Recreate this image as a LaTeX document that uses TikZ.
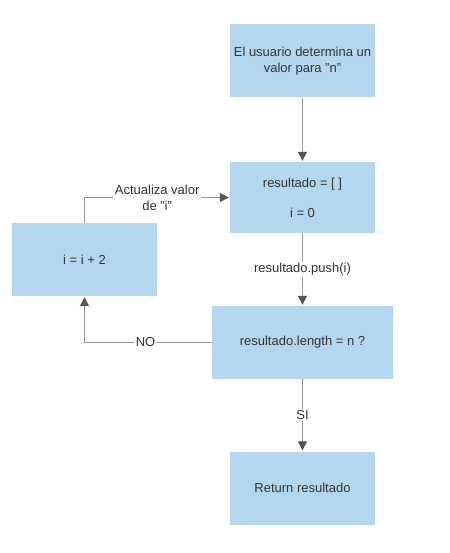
\documentclass[tikz,border=0pt]{standalone}
\usepackage{fontspec}
\setmainfont{Liberation Sans}
\usetikzlibrary{arrows.meta}
\definecolor{boxblue}{RGB}{180,215,239}
\definecolor{textgray}{RGB}{51,51,51}
\definecolor{linegray}{RGB}{150,150,150}
\definecolor{tipgray}{RGB}{85,85,85}

\begin{document}
\begin{tikzpicture}[
  x=1pt, y=-1pt,
  font=\fontsize{13}{16}\selectfont,
  proc/.style={fill=boxblue, text=textgray, align=center, inner sep=0pt,
    minimum width=145pt, minimum height=73pt},
  arrow/.style={draw=linegray, line width=1.3pt, shorten >=1pt,
    -{Triangle[width=9pt, length=9pt, color=tipgray]}},
  lbl/.style={fill=white, text=textgray, align=center, inner sep=1.5pt}
]

\useasboundingbox (0,0) rectangle (449,553);

% Main column.
\node[proc] (user) at (302.5,61) {El usuario determina un\\valor para "n"};
\node[proc, minimum height=71pt] (init) at (302.5,197.5)
  {resultado = [ ]\\[14pt]i = 0};
\node[proc, minimum width=181pt] (check) at (302.5,342.5)
  {resultado.length = n ?};
\node[proc] (ret) at (302.5,488) {Return resultado};

% Loop step.
\node[proc] (incr) at (84.5,259.5) {i = i + 2};

% Flow.
\draw[arrow] (user) -- (init);
\draw[arrow] (init) -- node[lbl] {resultado.push(i)} (check);
\draw[arrow] (check) -- node[lbl] {SI} (ret);
\draw[arrow] (check.west) -| node[lbl, pos=0.26] {NO} (incr);
\draw[arrow] (incr) |- node[lbl, pos=0.75] {Actualiza valor\\de "i"} (init);

\end{tikzpicture}
\end{document}
